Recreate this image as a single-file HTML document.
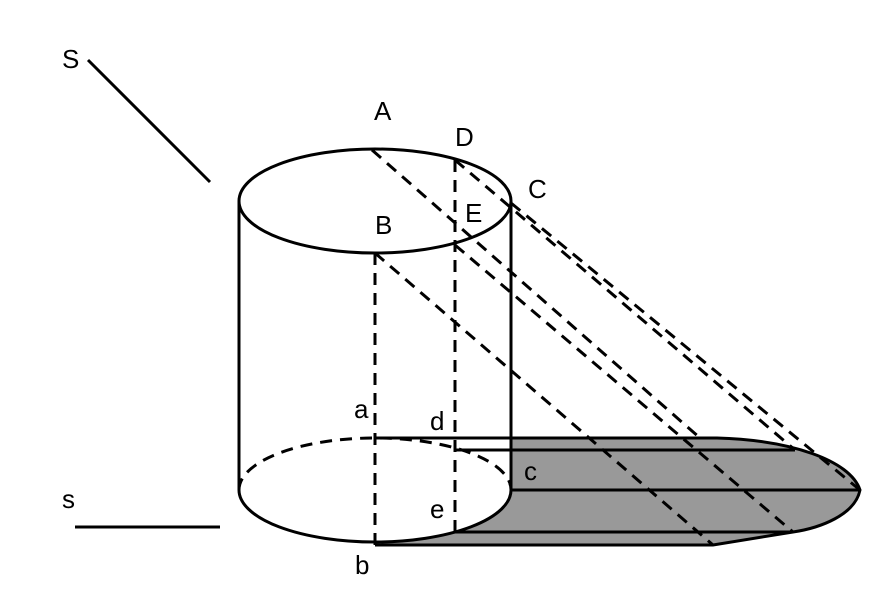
<!DOCTYPE html>
<html><head><meta charset="utf-8"><style>html,body{margin:0;padding:0;background:#fff}svg{display:block}</style></head>
<body>
<svg width="888" height="614" viewBox="0 0 888 614" xmlns="http://www.w3.org/2000/svg" font-family="Liberation Sans, DejaVu Sans, sans-serif" font-size="26">
<rect width="888" height="614" fill="#fff"/>
<path d="M511,438 L717,438 C790,440 850,460 860,490 C855,515 820,528 793,532 L713,545 L375,545 L375,543 A136,52 0 0 0 511,490 Z" fill="#999" stroke="none"/>
<path d="M375,438 L717,438 C790,440 850,460 860,490 C855,515 820,528 793,532 L713,545 L375,545" fill="none" stroke="#000" stroke-width="3"/>
<g stroke="#000" stroke-width="3">
<line x1="455" y1="450" x2="795" y2="450"/>
<line x1="511" y1="490" x2="860" y2="490"/>
<line x1="455" y1="532" x2="793" y2="532"/>
</g>
<g fill="none" stroke="#000" stroke-width="3">
<ellipse cx="375" cy="201" rx="136" ry="52"/>
<line x1="239" y1="201" x2="239" y2="490"/>
<line x1="511" y1="201" x2="511" y2="490"/>
<path d="M239,490 A136,52 0 0 0 511,490"/>
<path d="M239,490 A136,52 0 0 1 511,490" stroke-dasharray="12,8"/>
<line x1="88" y1="60" x2="210" y2="182"/>
<line x1="75" y1="527" x2="220" y2="527"/>
</g>
<g stroke="#000" stroke-width="3" stroke-dasharray="12,8" fill="none">
<line x1="375" y1="253" x2="375" y2="545"/>
<line x1="455" y1="160" x2="455" y2="535"/>
<line x1="372" y1="150" x2="700" y2="438"/>
<line x1="375" y1="253" x2="713" y2="545"/>
<line x1="455" y1="245" x2="793" y2="532"/>
<line x1="455" y1="160" x2="795" y2="450"/>
<line x1="511" y1="203" x2="860" y2="490"/>
</g>
<g fill="#000">
<text x="62" y="68">S</text>
<text x="62" y="508">s</text>
<text x="374" y="120">A</text>
<text x="455" y="146">D</text>
<text x="528" y="198">C</text>
<text x="375" y="234">B</text>
<text x="465" y="222">E</text>
<text x="354" y="418">a</text>
<text x="430" y="430">d</text>
<text x="524" y="480">c</text>
<text x="430" y="518">e</text>
<text x="355" y="574">b</text>
</g>
</svg>
</body></html>
